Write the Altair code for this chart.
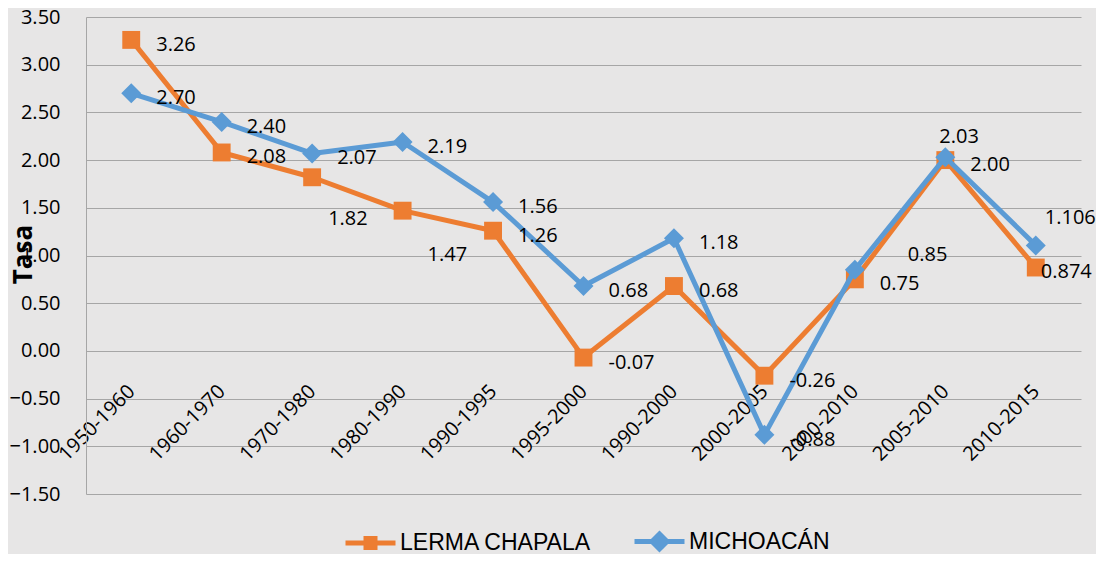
import altair as alt
import pandas as pd

# ---------------- data ----------------
categories = ["1950-1960", "1960-1970", "1970-1980", "1980-1990", "1990-1995",
              "1995-2000", "1990-2000", "2000-2005", "2000-2010", "2005-2010", "2010-2015"]
series_names = ["LERMA CHAPALA", "MICHOACÁN"]
lerma = [3.26, 2.08, 1.82, 1.47, 1.26, -0.07, 0.68, -0.26, 0.75, 2.00, 0.874]
michoacan = [2.70, 2.40, 2.07, 2.19, 1.56, 0.68, 1.18, -0.88, 0.85, 2.03, 1.106]
lerma_text = ["3.26", "2.08", "1.82", "1.47", "1.26", "-0.07", "0.68", "-0.26", "0.75", "2.00", "0.874"]
michoacan_text = ["2.70", "2.40", "2.07", "2.19", "1.56", "0.68", "1.18", "-0.88", "0.85", "2.03", "1.106"]
y_ticks = [-1.5, -1.0, -0.5, 0.0, 0.5, 1.0, 1.5, 2.0, 2.5, 3.0, 3.5]

# ---------------- styling ----------------
colors = ["#ED7D31", "#5B9BD5"]
legend_paths = [
    "M-1,0H1M-0.18,-0.18H0.18V0.18H-0.18ZM-0.07,-0.07H0.07V0.07H-0.07Z",
    "M-1,0H1M0,-0.3L0.3,0L0,0.3L-0.3,0ZM0,-0.12L0.12,0L0,0.12L-0.12,0Z",
]
num_font = "Open Sans"
default_nudge = (25, 5)
nudges = {
    ("LERMA CHAPALA", "1970-1980"): (16, 42),
    ("LERMA CHAPALA", "1980-1990"): (25, 44),
    ("LERMA CHAPALA", "2010-2015"): (5, 4),
    ("MICHOACÁN", "2000-2010"): (53, -15),
    ("MICHOACÁN", "2005-2010"): (-6, -20),
    ("MICHOACÁN", "2010-2015"): (9, -27),
}

rows = []
for name, vals, texts in [(series_names[0], lerma, lerma_text),
                          (series_names[1], michoacan, michoacan_text)]:
    for c, v, t in zip(categories, vals, texts):
        dx, dy = nudges.get((name, c), default_nudge)
        rows.append({"periodo": c, "serie": name, "tasa": v, "etiqueta": t,
                     "nudge": f"{dx}_{dy}"})
df = pd.DataFrame(rows)

x_enc = alt.X(
    "periodo:N",
    scale=alt.Scale(domain=categories),
    title=None,
    axis=alt.Axis(
        orient="bottom", domain=False, ticks=False, grid=False, tickSize=0,
        labelAngle=315, labelAlign="right", labelBaseline="middle",
        labelPadding=0, offset=-106, labelOverlap=False, labelBound=False,
        labelFont=num_font, labelFontSize=20, labelColor="#000000",
    ),
)
y_enc = alt.Y(
    "tasa:Q",
    scale=alt.Scale(domain=[-1.5, 3.5], nice=False, zero=False),
    axis=alt.Axis(
        values=y_ticks, format=".2f", domain=True, domainColor="#A6A6A6",
        domainWidth=1, ticks=False, tickSize=0, grid=True, gridColor="#A6A6A6",
        gridWidth=1, labelFont=num_font, labelFontSize=20, labelColor="#000000",
        labelPadding=26, title="Tasa", titleFont=num_font, titleFontSize=26,
        titleFontWeight="bold", titleColor="#000000", titleAngle=270,
        titleX=-63, titleY=237, titleAlign="center", titleBaseline="middle",
    ),
)

base = alt.Chart(df)
layers = []
shapes = ["square", "diamond"]
sizes = [320, 400]
for i, name in enumerate(series_names):
    sub = base.transform_filter(alt.datum.serie == name)
    layers.append(sub.mark_line(strokeWidth=5, color=colors[i], strokeJoin="round",
                                strokeCap="round").encode(x=x_enc, y=y_enc))
    layers.append(sub.mark_point(shape=shapes[i], filled=True, size=sizes[i],
                                 color=colors[i], opacity=1).encode(x=x_enc, y=y_enc))

for key in sorted(df["nudge"].unique()):
    dx, dy = (int(v) for v in key.split("_"))
    layers.append(
        base.transform_filter(alt.datum.nudge == key)
        .mark_text(align="left", baseline="middle", dx=dx, dy=dy, font=num_font,
                   fontSize=20, color="#000000")
        .encode(x=x_enc, y=y_enc, text="etiqueta:N")
    )

legend_props = dict(title=None, orient="none", legendX=257, legendY=497,
                    direction="horizontal", padding=0,
                    labelFont="Liberation Sans", labelFontSize=23, labelLimit=0,
                    labelColor="#000000", symbolSize=2500, symbolStrokeWidth=5,
                    labelOffset=2, columnPadding=32)
legend_layer = (
    base.transform_filter("false")
    .mark_point(filled=True, opacity=1)
    .encode(
        x=x_enc, y=y_enc,
        color=alt.Color("serie:N", scale=alt.Scale(domain=series_names, range=colors),
                        legend=alt.Legend(**legend_props)),
        stroke=alt.Stroke("serie:N", scale=alt.Scale(domain=series_names, range=colors),
                          legend=alt.Legend(**legend_props)),
        shape=alt.Shape("serie:N", scale=alt.Scale(domain=series_names, range=legend_paths),
                        legend=alt.Legend(**legend_props)),
    )
)
layers.append(legend_layer)

chart = (
    alt.layer(*layers)
    .properties(
        width=995, height=477,
        autosize=alt.AutoSizeParams(type="none"),
        padding={"left": 78, "top": 9, "right": 15, "bottom": 60},
        background="#E7E6E6",
    )
    .configure_view(stroke=None)
)

chart.save("out.html", embed_options={"renderer": "svg", "actions": False})
